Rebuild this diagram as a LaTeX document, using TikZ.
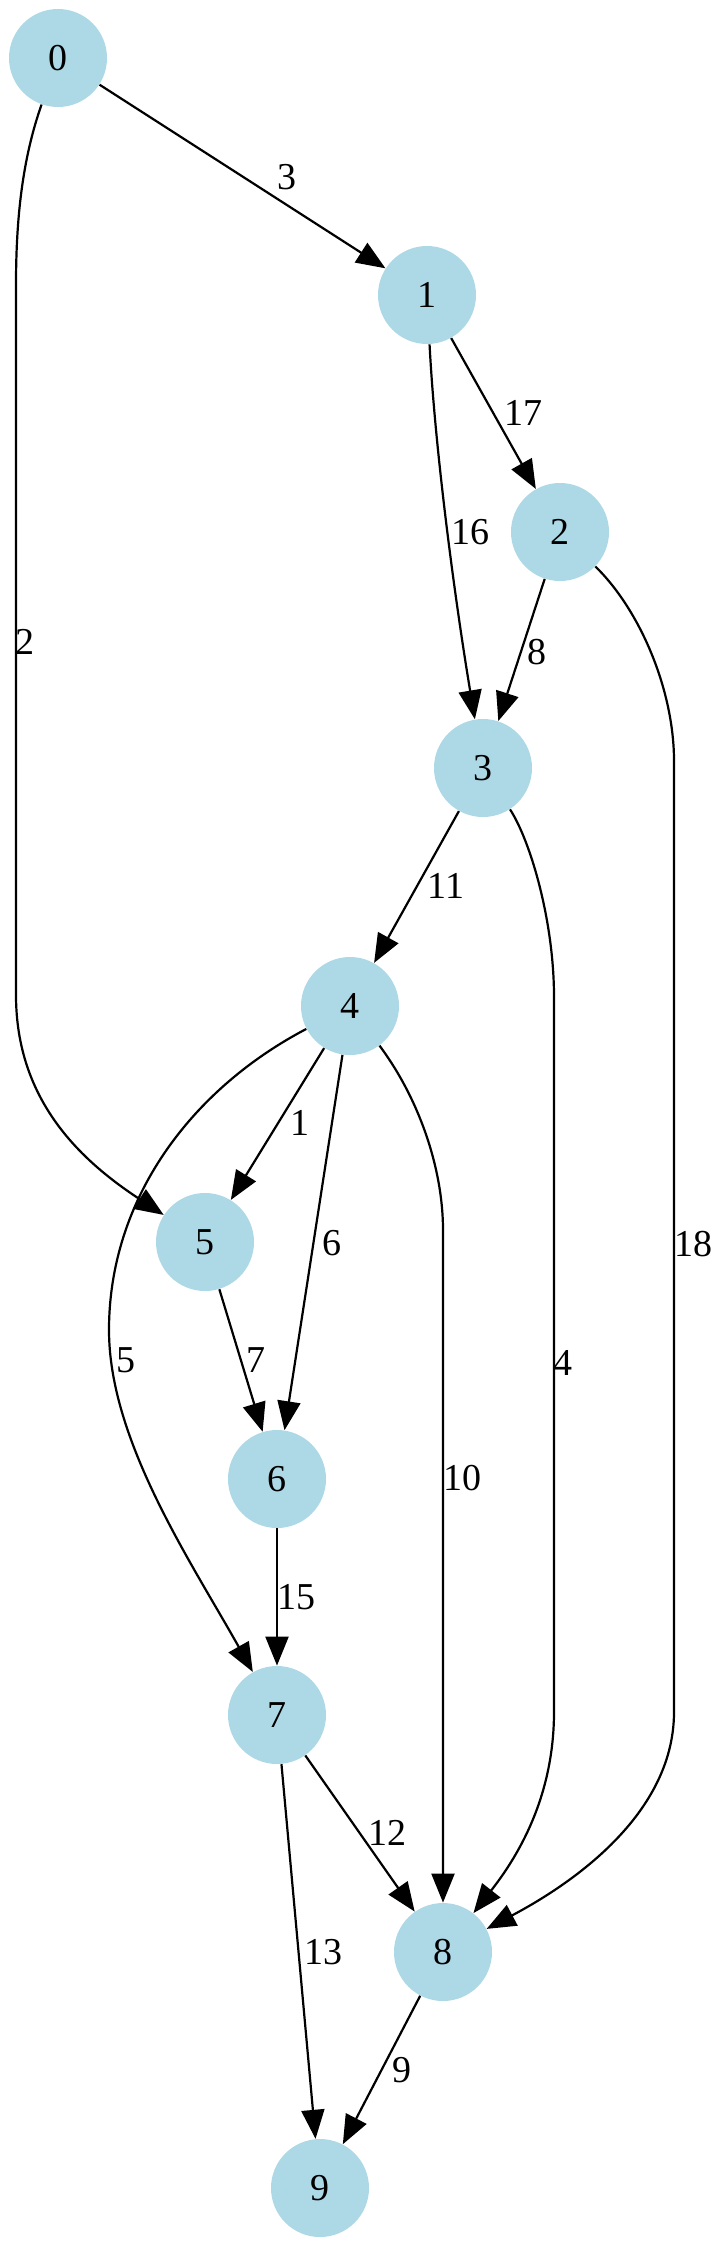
\documentclass[tikz,border=0pt]{standalone}
\usepackage{fontspec}
\setmainfont{Liberation Serif}
\usepackage{xcolor}
\definecolor{nodeblue}{RGB}{173,216,230}
\usepackage{tikz}
\usetikzlibrary{arrows.meta}
\tikzstyle{vertex} = [
    circle, fill=nodeblue, minimum size=49pt, inner sep=0pt,
    font=\fontsize{19}{22}\selectfont,
]
\tikzstyle{weight} = [font=\fontsize{19}{22}\selectfont, inner sep=0pt]
\tikzstyle{edge} = [-{Triangle[length=14.5pt,width=11.5pt]}, line width=1.1pt]

\begin{document}
\begin{tikzpicture}[x=0.5pt, y=-0.5pt]
    \useasboundingbox (0,0) rectangle (726,2248);
    % vertices, one per rank
    \node[vertex] (n0) at (58, 58) {0};
    \node[vertex] (n1) at (427, 295) {1};
    \node[vertex] (n2) at (560, 532) {2};
    \node[vertex] (n3) at (483, 768) {3};
    \node[vertex] (n4) at (350, 1006) {4};
    \node[vertex] (n5) at (205, 1242) {5};
    \node[vertex] (n6) at (277, 1479) {6};
    \node[vertex] (n7) at (277, 1715) {7};
    \node[vertex] (n8) at (443, 1952) {8};
    \node[vertex] (n9) at (320, 2188) {9};

    % straight edges
    \draw[edge] (n0) -- (n1);
    \draw[edge] (n1) -- (n2);
    \draw[edge] (n2) -- (n3);
    \draw[edge] (n3) -- (n4);
    \draw[edge] (n4) -- (n5);
    \draw[edge] (n4) -- (n6);
    \draw[edge] (n5) -- (n6);
    \draw[edge] (n6) -- (n7);
    \draw[edge] (n7) -- (n8);
    \draw[edge] (n7) -- (n9);
    \draw[edge] (n8) -- (n9);

    % curved edges
    \draw[edge] (n1) .. controls (435, 450) and (455, 600) .. (n3);
    \draw[edge] (n0) .. controls (22, 160) and (16, 220) .. (16, 285)
        -- (16, 995) .. controls (16, 1100) and (80, 1160) .. (n5);
    \draw[edge] (n2) .. controls (640, 610) and (674, 690) .. (674, 761)
        -- (674, 1712) .. controls (674, 1820) and (560, 1890) .. (n8);
    \draw[edge] (n3) .. controls (530, 840) and (554, 920) .. (554, 997)
        -- (554, 1712) .. controls (554, 1800) and (515, 1860) .. (n8);
    \draw[edge] (n4) .. controls (420, 1100) and (443, 1170) .. (443, 1230)
        -- (n8);
    \draw[edge] (n4) .. controls (190, 1090) and (109, 1200) .. (109, 1330)
        .. controls (109, 1440) and (190, 1560) .. (n7);

    % weights
    \node[weight] (w01) at (287, 177) {3};
    \node[weight] (w05) at (25, 642) {2};
    \node[weight] (w12) at (523, 413) {17};
    \node[weight] (w13) at (470, 532) {16};
    \node[weight] (w23) at (537, 652) {8};
    \node[weight] (w28) at (693, 1244) {18};
    \node[weight] (w34) at (446, 886) {11};
    \node[weight] (w38) at (563, 1363) {4};
    \node[weight] (w45) at (300, 1123) {1};
    \node[weight] (w46) at (332, 1243) {6};
    \node[weight] (w47) at (126, 1360) {5};
    \node[weight] (w56) at (256, 1360) {7};
    \node[weight] (w48) at (462, 1478) {10};
    \node[weight] (w67) at (296, 1597) {15};
    \node[weight] (w78) at (387, 1833) {12};
    \node[weight] (w79) at (323, 1952) {13};
    \node[weight] (w89) at (402, 2070) {9};

\end{tikzpicture}
\end{document}
